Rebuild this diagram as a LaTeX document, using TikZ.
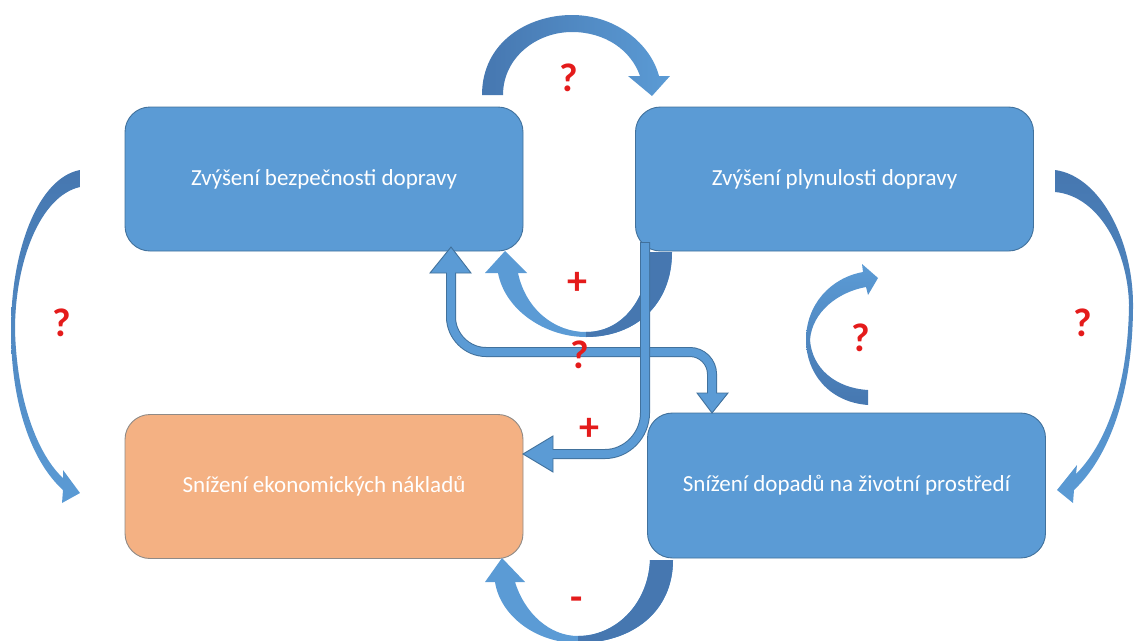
\documentclass[tikz,border=0pt]{standalone}
\usepackage{fontspec}
\setmainfont{Carlito}
\definecolor{boxblue}{HTML}{5B9BD5}
\definecolor{boxedge}{HTML}{41719C}
\definecolor{boxorange}{HTML}{F4B183}
\definecolor{orangeedge}{HTML}{8F8A86}
\definecolor{arrlight}{HTML}{5B9BD5}
\definecolor{arrdark}{HTML}{4677B0}
\definecolor{signred}{HTML}{E41B1B}
\begin{document}
\begin{tikzpicture}[x=1pt,y=-1pt,
  box/.style={draw=boxedge, line width=0.9pt, fill=boxblue, rounded corners=25pt,
    minimum width=398pt, minimum height=144pt, inner sep=0pt, text=white,
    font=\fontsize{23}{27}\selectfont},
  sign/.style={text=signred, font=\bfseries\fontsize{40}{46}\selectfont, inner sep=0pt},
  thinout/.style={draw=boxedge, line width=10pt},
  thinin/.style={draw=boxblue, line width=8pt},
  head/.style={fill=boxblue, draw=boxedge, line width=0.9pt, line join=miter}
]
\useasboundingbox (0,0) rectangle (1134,640);
\clip (0,0) rectangle (1134,640);

% boxes
\node[box] (b1) at (324,179) {Zvýšení bezpečnosti dopravy};
\node[box] (b2) at (834.5,179) {Zvýšení plynulosti dopravy};
\node[box, fill=boxorange, draw=orangeedge] (b3) at (324,486.5) {Snížení ekonomických nákladů};
\node[box, minimum height=145pt] (b4) at (846.5,485.5) {Snížení dopadů na životní prostředí};

% top curved arrow (b1 -> b2)
\shade[left color=arrdark, right color=arrlight]
 (482,95) .. controls (482,42) and (528,15) .. (572,15)
 .. controls (617,15) and (651,45) .. (659,76)
 -- (670,76) -- (652,96) -- (628,76) -- (640,76)
 .. controls (631,50) and (605,32) .. (572,32)
 .. controls (536,32) and (503,58) .. (503,95) -- cycle;

% left curved arrow (b1 -> b3)
\shade[top color=arrdark, bottom color=arrlight]
 (80,170) .. controls (38,178) and (11,250) .. (11,330)
 .. controls (11,405) and (32,462) .. (63,490)
 -- (62,503) -- (80,493) -- (63,470) -- (63,478)
 .. controls (40,457) and (17,405) .. (15,330)
 .. controls (15,262) and (40,196) .. (80,187) -- cycle;

% right curved arrow (b2 -> b4)
\shade[top color=arrdark, bottom color=arrlight]
 (1055,170) .. controls (1100,176) and (1133,240) .. (1133,305)
 .. controls (1133,395) and (1108,458) .. (1074,490)
 -- (1073,503) -- (1057,490) -- (1077,465) -- (1076,474)
 .. controls (1104,446) and (1128,390) .. (1129,305)
 .. controls (1128,252) and (1100,196) .. (1055,192) -- cycle;

% middle curved arrow (b2 -> b1), "+"
\fill[arrlight, path picture={\fill[arrdark] (586,240) rectangle (700,345);}]
 (498,273) -- (485,273) -- (505,251) -- (527,273) -- (518,273)
 .. controls (526,310) and (555,332) .. (586,332)
 .. controls (622,332) and (648,300) .. (650,252)
 -- (672,252)
 .. controls (672,305) and (635,337) .. (586,337)
 .. controls (545,337) and (505,310) .. (498,273) -- cycle;

% bottom curved arrow (b4 -> b3), "-"
\fill[arrlight, path picture={\fill[arrdark] (578,550) rectangle (690,650);}]
 (495,582) -- (485,582) -- (502,558) -- (525,582) -- (515,582)
 .. controls (525,614) and (550,636) .. (578,636)
 .. controls (615,636) and (648,605) .. (650,560)
 -- (673,560)
 .. controls (673,612) and (632,643) .. (578,643)
 .. controls (535,643) and (500,615) .. (495,582) -- cycle;

% small curved arrow above b4, "?"
\shade[top color=arrlight, bottom color=arrdark]
 (868,405) .. controls (828,402) and (806,372) .. (806,340)
 .. controls (806,305) and (830,278) .. (863,272)
 -- (862,264) -- (878,278) -- (868,295) -- (866,287)
 .. controls (838,292) and (812,312) .. (810,340)
 .. controls (812,368) and (835,388) .. (868,390) -- cycle;

% double-headed bent arrow b1 <-> b4, "?"
\draw[thinout] (451,273) -- (451,317) .. controls (451,336) and (467,352) .. (486,352)
  -- (690,352) .. controls (702,352) and (712,362) .. (712,374) -- (712,393);
\draw[head] (430,273) -- (451,247) -- (471,273) -- cycle;
\draw[head] (697,393) -- (712,413) -- (728,393) -- cycle;
\draw[thinin] (451,270) -- (451,317) .. controls (451,336) and (467,352) .. (486,352)
  -- (690,352) .. controls (702,352) and (712,362) .. (712,374) -- (712,396);

% thin bent arrow b2 -> b3, "+"
\draw[thinout] (645,242) -- (645,413) .. controls (645,435) and (627,454) .. (605,454) -- (553,454);
\draw[head] (553,436) -- (523,454) -- (553,472) -- cycle;
\draw[thinin] (645,243) -- (645,413) .. controls (645,435) and (627,454) .. (605,454) -- (550,454);

% signs
\node[sign] (s1) at (569,78) {?};
\node[sign] (s2) at (62,323) {?};
\node[sign] (s3) at (1083,323) {?};
\node[sign] (s4) at (577,283) {+};
\node[sign] (s5) at (580,355) {?};
\node[sign] (s6) at (589,429) {+};
\node[sign] (s7) at (861,338) {?};
\node[sign] (s8) at (577,604) {-};
\end{tikzpicture}
\end{document}
